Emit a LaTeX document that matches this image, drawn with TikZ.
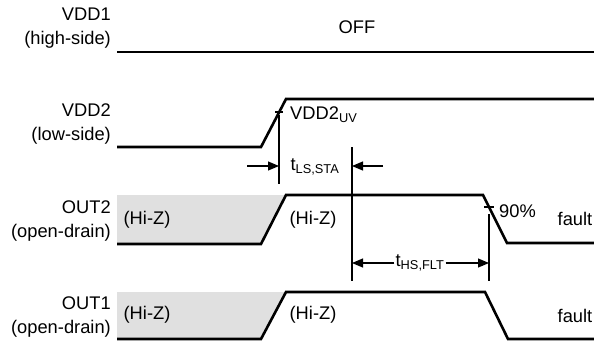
\documentclass[tikz,border=0pt]{standalone}
\usepackage{fontspec}
\setmainfont{Liberation Sans}
\usetikzlibrary{arrows.meta}
\definecolor{hizgray}{HTML}{E0E0E0}

\begin{document}
\begin{tikzpicture}[x=1pt, y=-1pt, font=\fontsize{18.3}{24.5}\selectfont,
    >={Triangle[length=11pt,width=9pt]},
    wave/.style={line width=2.6pt, line join=miter},
    dim/.style={line width=1.1pt},
    sig/.style={anchor=east, align=right, inner sep=1pt}]
  \useasboundingbox (0,0) rectangle (594,341);
  % signal names
  \foreach \y/\nm/\side in {28/VDD1/high-side, 124/VDD2/low-side,
      221/OUT2/open-drain, 317/OUT1/open-drain}
    \node[sig] (lab\nm) at (112,\y) {\nm\\(\side)};
  % high-impedance regions
  \foreach \t/\b in {195/244, 292/339}
    \fill[hizgray] (117,\t) -- (286,\t) -- (261,\b) -- (117,\b) -- cycle;
  % waveforms
  \draw[wave] (117,52) -- (594,52);
  \draw[wave] (117,147) -- (261,147) -- (286,99) -- (594,99);
  \draw[wave] (117,244) -- (261,244) -- (286,195) -- (483,195) -- (507,243) -- (594,243);
  \draw[wave] (117,339) -- (261,339) -- (286,292) -- (485,292) -- (508,339) -- (594,339);
  % texts on the traces
  \node (off) at (357,27) {OFF};
  \node[anchor=west, inner sep=1pt] (uv) at (289,115) {VDD2\textsubscript{UV}};
  \node[anchor=west, inner sep=1pt] (pct) at (498,211) {90\%};
  \foreach \y/\n in {220/2, 315/1}{
    \node (hizA\n) at (147,\y) {(Hi-Z)};
    \node (hizB\n) at (313,\y) {(Hi-Z)};
  }
  \node (fault2) at (575,219) {fault};
  \node (fault1) at (575,316) {fault};
  % thresholds and timing marks
  \coordinate (uvTop) at (279,115);
  \coordinate (uvBot) at (279,184);
  \coordinate (staTop) at (352,147);
  \coordinate (staBot) at (352,281);
  \coordinate (pctTop) at (489,214);
  \coordinate (pctBot) at (489,281);
  \draw[dim] (275,112) -- (283,112);
  \draw[dim] (484,207) -- (494,207);
  \draw[dim] (uvTop) -- (uvBot);
  \draw[dim] (staTop) -- (staBot);
  \draw[dim] (pctTop) -- (pctBot);
  \node[inner sep=1pt] (lssta) at (315,167) {t\textsubscript{LS,STA}};
  \coordinate (lsIn) at (247,166);
  \coordinate (staIn) at (383,166);
  \draw[dim, ->] (lsIn) -- (uvTop |- lsIn);
  \draw[dim, ->] (staIn) -- (staTop |- staIn);
  \node[inner sep=1pt] (hsflt) at (420,263) {t\textsubscript{HS,FLT}};
  \draw[dim, ->] (hsflt.west) -- (staTop |- hsflt.west);
  \draw[dim, ->] (hsflt.east) -- (pctTop |- hsflt.east);
\end{tikzpicture}
\end{document}
